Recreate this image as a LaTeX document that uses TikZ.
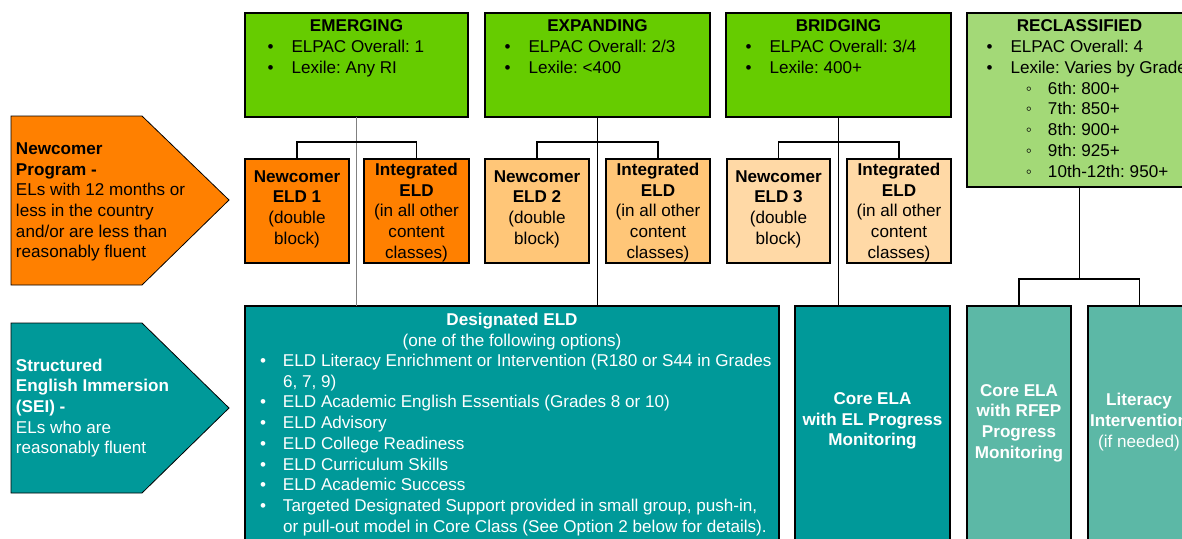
\documentclass[tikz,border=0pt]{standalone}
\usepackage{fontspec}
\setmainfont{Liberation Sans}
\definecolor{orangeA}{RGB}{255,128,0}
\definecolor{orangeB}{RGB}{255,198,120}
\definecolor{orangeC}{RGB}{255,217,166}
\definecolor{greenA}{RGB}{102,204,0}
\definecolor{greenB}{RGB}{163,217,119}
\definecolor{tealA}{RGB}{0,153,153}
\definecolor{tealB}{RGB}{92,184,166}
\newcommand\mybu[1]{\makebox[0pt][c]{•}\hspace*{#1}}
\newcommand\mysubbu{\hspace*{39.5pt}\makebox[0pt][c]{◦}\hspace*{19pt}}
\frenchspacing
\begin{document}
\begin{tikzpicture}[x=1pt,y=-1pt,
  every node/.style={inner sep=0pt, outer sep=0pt, font=\fontsize{17.1}{20.7}\selectfont},
  boxA/.style={draw=black, line width=1.5pt, rectangle, anchor=north west},
  conn/.style={draw=black, line width=1.5pt},
  connthin/.style={draw=black!50, line width=1pt},
  penta/.style={draw=black, line width=0.8pt}]
\useasboundingbox (0,0) rectangle (1182,538);
\clip (0,0) rectangle (1182,538);

% left pentagons
\path[penta, fill=orangeA] (11,116) -- (142,116) -- (229,200) -- (142,285) -- (11,285) -- cycle;
\path[penta, fill=tealA] (11,323) -- (142,323) -- (229,408) -- (142,493) -- (11,493) -- cycle;
\node[anchor=west, align=left] (newcomertxt) at (16,202) {\bfseries Newcomer\\\bfseries Program -\\ELs with 12 months or\\less in the country\\and/or are less than\\reasonably fluent};
\node[anchor=west, align=left, text=white] (seitxt) at (16,408) {\bfseries Structured\\\bfseries English Immersion\\\bfseries (SEI) -\\ELs who are\\reasonably fluent};

% top boxes
\node[boxA, fill=greenA, minimum width=223pt, minimum height=104pt] (emerging) at (245,13) {};
\node[boxA, fill=greenA, minimum width=225pt, minimum height=104pt] (expanding) at (485,13) {};
\node[boxA, fill=greenA, minimum width=225pt, minimum height=104pt] (bridging) at (726,13) {};
\node[boxA, fill=greenB, minimum width=225pt, minimum height=174pt] (reclass) at (967,13) {};

\node[anchor=base] (emergingT) at (356.5,31) {\bfseries EMERGING};
\node[anchor=base west, align=left] (emergingL) at (270.5,73.5) {\mybu{21pt}ELPAC Overall: 1\\\mybu{21pt}Lexile: Any RI};
\node[anchor=base] (expandingT) at (597.5,31) {\bfseries EXPANDING};
\node[anchor=base west, align=left] (expandingL) at (507.5,73.5) {\mybu{21pt}ELPAC Overall: 2/3\\\mybu{21pt}Lexile: <400};
\node[anchor=base] (bridgingT) at (838.5,31) {\bfseries BRIDGING};
\node[anchor=base west, align=left] (bridgingL) at (748.5,73.5) {\mybu{21pt}ELPAC Overall: 3/4\\\mybu{21pt}Lexile: 400+};
\node[anchor=base] (reclassT) at (1079.5,31) {\bfseries RECLASSIFIED};
\node[anchor=base west, align=left] (reclassL) at (989.5,177) {\mybu{21pt}ELPAC Overall: 4\\\mybu{21pt}Lexile: Varies by Grade\\\mysubbu 6th: 800+\\\mysubbu 7th: 850+\\\mysubbu 8th: 900+\\\mysubbu 9th: 925+\\\mysubbu 10th-12th: 950+};

% middle boxes
\node[boxA, fill=orangeA, minimum width=104pt, minimum height=104pt] (newc1) at (245,159) {};
\node[boxA, fill=orangeA, minimum width=105pt, minimum height=104pt] (integ1) at (364,159) {};
\node[boxA, fill=orangeB, minimum width=104pt, minimum height=104pt] (newc2) at (485,159) {};
\node[boxA, fill=orangeB, minimum width=104pt, minimum height=104pt] (integ2) at (606,159) {};
\node[boxA, fill=orangeC, minimum width=103pt, minimum height=104pt] (newc3) at (727,159) {};
\node[boxA, fill=orangeC, minimum width=104pt, minimum height=104pt] (integ3) at (847,159) {};

\node[align=center] (newc1T) at (297,209) {\bfseries Newcomer\\\bfseries ELD 1\\(double\\block)};
\node[align=center] (integ1T) at (416.5,212.5) {\bfseries Integrated\\\bfseries ELD\\(in all other\\content\\classes)};
\node[align=center] (newc2T) at (537,209) {\bfseries Newcomer\\\bfseries ELD 2\\(double\\block)};
\node[align=center] (integ2T) at (658,212.5) {\bfseries Integrated\\\bfseries ELD\\(in all other\\content\\classes)};
\node[align=center] (newc3T) at (778.5,209) {\bfseries Newcomer\\\bfseries ELD 3\\(double\\block)};
\node[align=center] (integ3T) at (899,212.5) {\bfseries Integrated\\\bfseries ELD\\(in all other\\content\\classes)};

% bottom boxes
\node[boxA, fill=tealA, minimum width=534pt, minimum height=250pt] (designated) at (245,306) {};
\node[boxA, fill=tealA, minimum width=155pt, minimum height=250pt] (coreel) at (795,306) {};
\node[boxA, fill=tealB, minimum width=104pt, minimum height=250pt] (rfep) at (967,306) {};
\node[boxA, fill=tealB, minimum width=103pt, minimum height=250pt] (litint) at (1088,306) {};

\node[anchor=base, align=center, text=white] (designatedT) at (512,346.2) {\bfseries Designated ELD\\(one of the following options)};
\node[anchor=base west, align=left, text=white] (designatedL) at (263,532.1) {%
\mybu{20pt}ELD Literacy Enrichment or Intervention (R180 or S44 in Grades\\
\hspace*{20pt}6, 7, 9)\\
\mybu{20pt}ELD Academic English Essentials (Grades 8 or 10)\\
\mybu{20pt}ELD Advisory\\
\mybu{20pt}ELD College Readiness\\
\mybu{20pt}ELD Curriculum Skills\\
\mybu{20pt}ELD Academic Success\\
\mybu{20pt}Targeted Designated Support provided in small group, push-in,\\
\hspace*{20pt}or pull-out model in Core Class (See Option 2 below for details).};
\node[align=center, text=white] (coreelT) at (872.5,421) {\bfseries Core ELA\\\bfseries with EL Progress\\\bfseries Monitoring};
\node[align=center, text=white] (rfepT) at (1019,423) {\bfseries Core ELA\\\bfseries with RFEP\\\bfseries Progress\\\bfseries Monitoring};
\node[align=center, text=white] (litintT) at (1139,422) {\bfseries Literacy\\\bfseries Intervention\\(if needed)};

% connectors
\draw[connthin] (emerging.south) -- (emerging.south |- designated.north);
\draw[conn] (expanding.south) -- (expanding.south |- designated.north);
\draw[conn] (bridging.south) -- (bridging.south |- coreel.north);
\draw[conn] (newc1.north) -- ++(0,-17) -| (integ1.north);
\draw[conn] (newc2.north) -- ++(0,-17) -| (integ2.north);
\draw[conn] (newc3.north) -- ++(0,-17) -| (integ3.north);
\draw[conn] (reclass.south) -- ++(0,92) coordinate (rjoin);
\draw[conn] (rfep.north) -- ++(0,-27) -| (litint.north);
\end{tikzpicture}
\end{document}
